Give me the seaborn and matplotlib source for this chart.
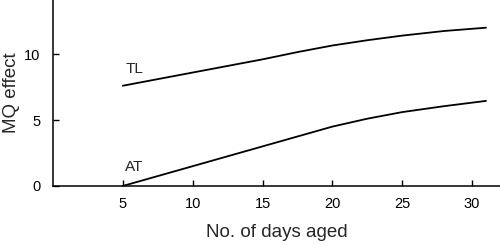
import matplotlib
matplotlib.use("Agg")
import matplotlib.pyplot as plt
import seaborn as sns
import pandas as pd

days = [5, 7.5, 10, 12.5, 15, 17.5, 20, 22.5, 25, 28, 31]
tl_effect = [7.6, 8.1, 8.6, 9.1, 9.6, 10.15, 10.65, 11.05, 11.4, 11.75, 12.0]
at_effect = [0.0, 0.75, 1.5, 2.25, 3.0, 3.75, 4.5, 5.1, 5.6, 6.05, 6.45]
x_ticks = [5, 10, 15, 20, 25, 30]
y_ticks = [0, 5, 10]

sns.set_theme(style="ticks")
plt.rcParams['font.family'] = ['Liberation Sans', 'DejaVu Sans']

df = pd.DataFrame({
    "days": days * 2,
    "effect": tl_effect + at_effect,
    "series": ["TL"] * len(days) + ["AT"] * len(days),
})

fig = plt.figure(figsize=(5, 2.45), dpi=100)
ax = fig.add_axes([0.106, 0.241, 0.894, 0.759])
sns.lineplot(data=df, x="days", y="effect", hue="series", palette=["black", "black"],
             linewidth=1.3, legend=False, ax=ax)
ax.set_xlim(0, 32)
ax.set_ylim(0, 14.1)
ax.set_xticks(x_ticks)
ax.set_yticks(y_ticks)
ax.tick_params(direction="in", length=4, width=1, labelsize=10.5, colors="black")
ax.tick_params(axis="x", pad=8)
ax.tick_params(axis="y", pad=9)
for s in ["top", "right"]:
    ax.spines[s].set_visible(False)
for s in ["left", "bottom"]:
    ax.spines[s].set_linewidth(1.1)
    ax.spines[s].set_color("black")
ax.set_xlabel("No. of days aged", fontsize=13.5, labelpad=9)
ax.set_ylabel("MQ effect", fontsize=13.5, labelpad=3)
ax.text(5.2, 8.56, "TL", fontsize=11)
ax.text(5.15, 1.14, "AT", fontsize=11)
fig.savefig("out.png", dpi=100)
